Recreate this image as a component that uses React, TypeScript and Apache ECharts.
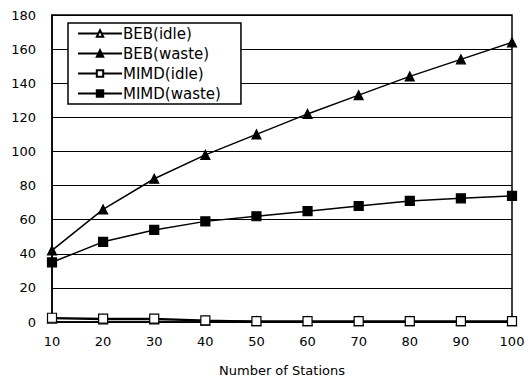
import React, { useEffect, useRef } from "react";
import * as echarts from "echarts";

const stations = [10, 20, 30, 40, 50, 60, 70, 80, 90, 100];
const bebIdle = [2, 1.5, 1.5, 0.8, 0.5, 0.5, 0.5, 0.5, 0.5, 0.5];
const bebWaste = [42, 66, 84, 98, 110, 122, 133, 144, 154, 164];
const mimdIdle = [2.5, 2, 2, 1, 0.5, 0.5, 0.5, 0.5, 0.5, 0.5];
const mimdWaste = [35, 47, 54, 59, 62, 65, 68, 71, 72.5, 74];

const FONT = "DejaVu Sans";

export default function App() {
  const ref = useRef<HTMLDivElement>(null);
  useEffect(() => {
    const chart = echarts.init(ref.current!, null, { renderer: "svg" });
    const mk = (name: string, vals: number[], symbol: string, filled: boolean) => ({
      name,
      type: "line",
      data: stations.map((s, i) => [s, vals[i]]),
      symbol,
      symbolSize: 9,
      lineStyle: { color: "#000", width: 1.5 },
      itemStyle: { color: filled ? "#000" : "#fff", borderColor: "#000", borderWidth: 1.2 },
      z: filled ? 3 : 4,
    });
    chart.setOption({
      animation: false,
      backgroundColor: "#fff",
      textStyle: { fontFamily: FONT },
      grid: { left: 52, right: 19, top: 15, bottom: 63, show: true, borderColor: "#000", borderWidth: 1.5 },
      legend: {
        left: 68,
        top: 23,
        orient: "vertical",
        backgroundColor: "#fff",
        borderColor: "#000",
        borderWidth: 1.5,
        borderRadius: 0,
        padding: [3, 20, 3, 9],
        itemGap: 5,
        itemWidth: 44,
        itemHeight: 8,
        textStyle: { fontSize: 15, color: "#000", fontFamily: FONT, padding: [0, 0, 0, -4] },
        data: ["BEB(idle)", "BEB(waste)", "MIMD(idle)", "MIMD(waste)"],
      },
      xAxis: {
        type: "value",
        min: 10,
        max: 100,
        interval: 10,
        name: "Number of Stations",
        nameLocation: "middle",
        nameGap: 42,
        nameTextStyle: { fontSize: 13, color: "#000", fontFamily: FONT },
        axisLine: { lineStyle: { color: "#000", width: 1.5 } },
        axisTick: { show: false },
        splitLine: { show: false },
        axisLabel: { fontSize: 13, color: "#000", margin: 13, fontFamily: FONT },
      },
      yAxis: {
        type: "value",
        min: 0,
        max: 180,
        interval: 20,
        axisLine: { show: true, lineStyle: { color: "#000", width: 1.5 } },
        axisTick: { show: false },
        splitLine: { show: true, lineStyle: { color: "#000", width: 1.2 } },
        axisLabel: { fontSize: 13, color: "#000", margin: 16, fontFamily: FONT },
      },
      series: [
        mk("BEB(idle)", bebIdle, "triangle", false),
        mk("BEB(waste)", bebWaste, "triangle", true),
        mk("MIMD(idle)", mimdIdle, "rect", false),
        mk("MIMD(waste)", mimdWaste, "rect", true),
      ],
    });
    return () => chart.dispose();
  }, []);
  return <div ref={ref} style={{ width: 531, height: 385, position: "absolute", left: 0, top: 0 }} />;
}
